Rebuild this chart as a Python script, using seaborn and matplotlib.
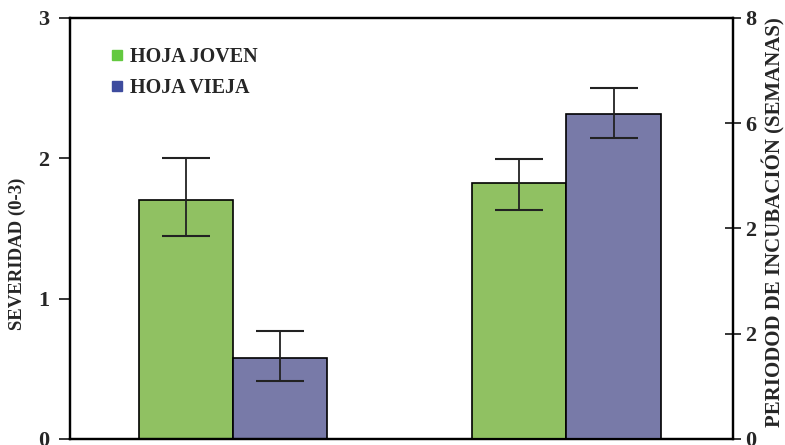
import pandas as pd
import seaborn as sns
import matplotlib.pyplot as plt
from matplotlib.lines import Line2D

# values
grupos = ["SEVERIDAD", "INCUBACION"]
hojas = ["HOJA JOVEN", "HOJA VIEJA"]
severidad = [1.70, 0.58]
severidad_sup = [2.00, 0.77]
severidad_inf = [1.45, 0.41]
incubacion = [4.87, 6.18]
incubacion_sup = [5.32, 6.67]
incubacion_inf = [4.35, 5.72]
right_ticks = [0, 2, 4, 6, 8]
right_labels = ["0", "2", "2", "6", "8"]

df_sev = pd.DataFrame({"grupo": grupos[0], "hoja": hojas, "valor": severidad,
                       "sup": severidad_sup, "inf": severidad_inf})
df_inc = pd.DataFrame({"grupo": grupos[1], "hoja": hojas, "valor": incubacion,
                       "sup": incubacion_sup, "inf": incubacion_inf})

colores = ["#8fd152", "#7073b0"]
colores_leyenda = ["#63c93f", "#3e4c9e"]

sns.set_style("white")
plt.rcParams['font.family'] = ['Liberation Serif', 'DejaVu Serif']
plt.rcParams['font.weight'] = 'bold'

fig = plt.figure(figsize=(7.85, 4.45), dpi=100)
ax = fig.add_axes([0.0892, 0.0135, 0.9338 - 0.0892, 0.9596 - 0.0135])
ax2 = ax.twinx()


def barras(axis, df):
    sns.barplot(data=df, x="grupo", y="valor", hue="hoja", order=grupos,
                hue_order=hojas, palette=colores, width=0.565,
                edgecolor="black", linewidth=1.2, legend=False, ax=axis)
    conts = list(axis.containers)[:len(hojas)]
    for i, cont in enumerate(conts):
        fila = df[df["hoja"] == hojas[i]].iloc[0]
        for bar in cont:
            h = bar.get_height()
            if pd.isna(h) or h == 0:
                continue
            xc = bar.get_x() + bar.get_width() / 2
            axis.errorbar(xc, fila["valor"],
                          yerr=[[fila["valor"] - fila["inf"]], [fila["sup"] - fila["valor"]]],
                          fmt="none", ecolor="#222222", elinewidth=1.3,
                          capsize=17, capthick=1.5)


barras(ax, df_sev)
barras(ax2, df_inc)

ax.set_ylim(0, 3)
ax.set_yticks([0, 1, 2, 3])
ax2.set_ylim(0, 8)
ax2.set_yticks(right_ticks)
ax2.set_yticklabels(right_labels)
ax.set_xlim(-0.49, 1.5)
ax.set_xticks([0.5])
ax.set_xticklabels([""])
ax.set_xlabel("")
ax2.set_xlabel("")

ax.set_ylabel("SEVERIDAD (0-3)", fontsize=13.5, fontweight="bold")
ax2.set_ylabel("PERIODOD DE INCUBACIÓN (SEMANAS)", fontsize=15, fontweight="bold")
ax.yaxis.set_label_coords(-0.066, 0.44)
ax2.yaxis.set_label_coords(1.044, 0.515)

ax.tick_params(axis="y", direction="out", length=8, width=1.3, labelsize=16, pad=7)
ax.tick_params(axis="x", direction="out", length=8, width=1.5)
ax2.tick_params(axis="y", direction="inout", length=12, width=1.3, labelsize=16, pad=3)

for a in (ax, ax2):
    for s in a.spines.values():
        s.set_visible(True)
        s.set_color("black")
        s.set_linewidth(1.6)

handles = [Line2D([0], [0], marker="s", color="w", markerfacecolor=c,
                  markeredgecolor=c, markersize=6.5, linestyle="none")
           for c in colores_leyenda]
ax2.legend(handles, hojas, loc="upper left", bbox_to_anchor=(0.028, 0.975),
           frameon=False, handletextpad=0.15, handlelength=1.0,
           labelspacing=0.55, prop={"family": "Liberation Serif", "weight": "bold", "size": 14.5})

fig.savefig("out.png", dpi=100)
